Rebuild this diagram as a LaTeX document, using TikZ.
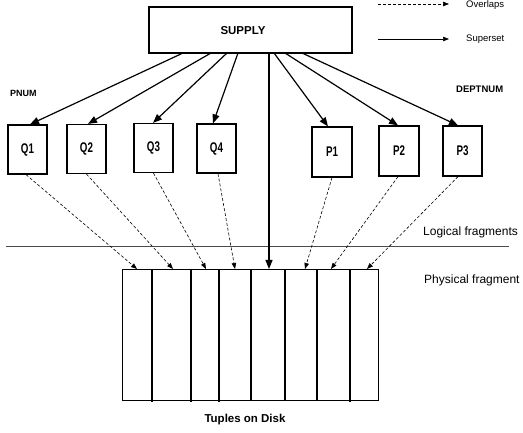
\documentclass[tikz,border=0pt]{standalone}
\usepackage{fontspec}
\setmainfont{Liberation Sans}
\usetikzlibrary{arrows.meta,calc}
\tikzset{
  box/.style={draw,line width=1.2pt,inner sep=0pt},
  qbox/.style={box,minimum width=39pt,minimum height=49pt,font=\bfseries\fontsize{14}{14}\selectfont},
  sup/.style={line width=1.2pt,-{Triangle[length=9pt,width=7pt]}},
  ovl/.style={line width=0.6pt,dash pattern=on 3pt off 2pt,-{Triangle[length=6pt,width=4.5pt]}},
  lbl/.style={inner sep=0pt,anchor=west},
}
\newcommand{\nar}[1]{\scalebox{0.7}[1]{#1}}
\begin{document}
\begin{tikzpicture}[x=1pt,y=-1pt]
\useasboundingbox (0,0) rectangle (523,433);
% supply
\node[box,minimum width=203pt,minimum height=46pt] (supply) at (250.5,30) {};
\node[font=\bfseries\fontsize{11.5}{12}\selectfont] (supplyt) at (243,31) {SUPPLY};
% fragments
\node[qbox] (q1) at (27.5,149.5) {\nar{Q1}};
\node[qbox] (q2) at (86.5,149) {\nar{Q2}};
\node[qbox] (q3) at (153.5,148) {\nar{Q3}};
\node[qbox] (q4) at (216.5,148.5) {\nar{Q4}};
\node[qbox,minimum width=40pt,minimum height=50pt] (p1) at (332,152) {\nar{P1}};
\node[qbox,minimum width=40pt,minimum height=50pt] (p2) at (399,151) {\nar{P2}};
\node[qbox,minimum height=50pt] (p3) at (462.5,151) {\nar{P3}};
% labels
\node[lbl,font=\bfseries\fontsize{9}{9}\selectfont] (pnum) at (10,93) {PNUM};
\node[lbl,font=\bfseries\fontsize{9.5}{9.5}\selectfont] (dept) at (456,89) {DEPTNUM};
\node[lbl,font=\fontsize{12}{12}\selectfont] (logf) at (423,232) {Logical fragments};
\node[lbl,font=\fontsize{12}{12}\selectfont] (phyf) at (424,280) {Physical fragment};
\node[font=\bfseries\fontsize{11.5}{12}\selectfont] (tod) at (245,420) {Tuples on Disk};
% legend
\coordinate (l1a) at (378,4); \coordinate (l1b) at (449,4);
\coordinate (l2a) at (378,39); \coordinate (l2b) at (449,39);
\draw[ovl] (l1a) -- (l1b);
\draw[line width=0.6pt,-{Triangle[length=6pt,width=4.5pt]}] (l2a) -- (l2b);
\node[inner sep=0pt,anchor=base west,font=\fontsize{9.5}{9.5}\selectfont] (ovlt) at (466,7.8) {Overlaps};
\node[lbl,font=\fontsize{9.5}{9.5}\selectfont] (supt) at (466,39) {Superset};
% separator
\coordinate (sepa) at (6,246); \coordinate (sepb) at (509,246);
\draw[line width=0.7pt,black!70] (sepa) -- (sepb);
% disk
\node[box,minimum width=256pt,minimum height=131pt,anchor=north west] (disk) at (122,269) {};
\foreach \x/\e in {152/402,191/402,219/402,251/400,285/400,317/400,350/402}
  \draw[line width=1.1pt] (\x,269) -- (\x,\e);
\foreach \n/\x in {t1/137,t2/173,t3/206,t4/235,tm/269,t5/305,t6/331,t7/367}
  \coordinate (\n) at (\x,269);
% superset arrows
\foreach \n/\x in {s1/183,s2/211,s3/227,s4/238,sm/269,s5/274,s6/285,s7/302}
  \coordinate (\n) at (\x,53);
\draw[sup] (s1) -- ([xshift=2.5pt]q1.north);
\draw[sup] (s2) -- ([xshift=1.5pt]q2.north);
\draw[sup] (s3) -- ([xshift=-0.5pt]q3.north);
\draw[sup] (s4) -- ([xshift=-3.5pt]q4.north);
\draw[sup] (s5) -- ([xshift=-4pt]p1.north);
\draw[sup] (s6) -- ([xshift=-1pt]p2.north);
\draw[sup] (s7) -- ([xshift=-4.5pt]p3.north);
\draw[sup] (sm) -- (tm);
% overlap arrows
\draw[ovl] ([xshift=-1.5pt]q1.south) -- (t1);
\draw[ovl] (q2.south) -- (t2);
\draw[ovl] (q3.south) -- (t3);
\draw[ovl] ([xshift=1.5pt]q4.south) -- (t4);
\draw[ovl] (p1.south) -- (t5);
\draw[ovl] ([xshift=-1pt]p2.south) -- (t6);
\draw[ovl] ([xshift=-4.5pt]p3.south) -- (t7);
\end{tikzpicture}
\end{document}
